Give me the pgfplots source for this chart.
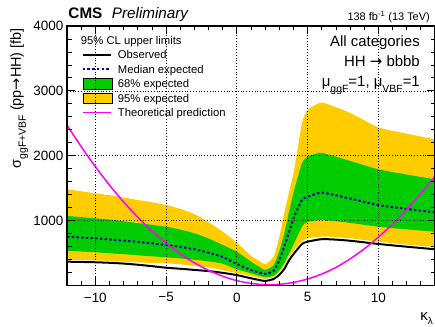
\documentclass[border=0pt]{standalone}
\usepackage{fontspec}
\setmainfont{Liberation Sans}
\newfontfamily\dejavu{DejaVu Sans}
\usepackage{pgfplots}
\usepackage{pgfplotstable}
\pgfplotsset{compat=1.18}
\usepgfplotslibrary{fillbetween}
\definecolor{cmsyellow}{RGB}{255,204,0}
\definecolor{cmsgreen}{RGB}{0,204,0}
\definecolor{cmsblue}{RGB}{10,10,150}
\definecolor{cmsmagenta}{RGB}{255,0,255}
\pgfplotstableread{
k yu gu med gl yl obs
-12 1482 1071 752 536 393 367
-11 1452 1054 740 524 385 363
-10 1421 1036 727 512 377 358
-9 1390 1015 710 497 370 350
-8 1355 990 692 482 363 338
-7 1318 962 672 466 355 320
-6 1282 935 650 450 348 298
-5 1241 906 624 435 342 274
-4 1180 862 595 418 326 258
-3 1100 805 560 398 305 240
-2 975 725 505 372 280 222
-1 830 625 440 335 236 195
0 660 521 330 250 190 160
1 455 367 239 188 146 111
1.5 390 300 205 155 120 88
2 330 240 178 128 98 70
2.6 444 315 225 150 115 100
3 750 530 390 230 180 165
3.35 1113 804 598 342 272 255
3.7 1450 1150 830 500 410 393
4.05 1780 1472 1060 650 547 496
4.6 2500 1883 1318 906 675 640
5 2704 1985 1368 983 727 675
5.9 2817 2046 1430 1009 752 712
6.6 2781 2011 1410 1000 752 712
8 2660 1920 1340 965 727 690
10 2438 1791 1240 906 675 640
12 2340 1710 1180 865 630 598
14 2253 1637 1128 829 589 558
}\limits
\pgfplotstableread{
k th
-12 2473
-11 2141
-10 1833
-9 1548
-8 1288
-7 1052
-6 840
-5 653
-4 489
-3 349
-2 234
-1 142
0 75
1 32
2 13
3 18
4 47
5 100
6 177
7 279
8 410
9 565
10 745
11 945
12 1170
13 1420
14 1683
}\theory
\pgfplotsset{
  myline/.style={legend image code/.code={\draw[##1] (0bp,0bp) -- (28bp,0bp);}},
  myarea/.style={legend image code/.code={\fill[##1] (0bp,-5.3bp) rectangle (29bp,5.3bp);}},
}
\begin{document}
\begin{tikzpicture}
\begin{axis}[
  name=ax,
  scale only axis, width=368bp, height=259.5bp,
  xmin=-12, xmax=14, ymin=0, ymax=4000,
  xtick={-10,-5,0,5,10}, xticklabels={−10,−5,0,5,10},
  minor xtick={-12,-11,...,14},
  ytick={0,1000,2000,3000,4000}, yticklabels={,1000,2000,3000,4000},
  minor ytick={0,200,...,4000},
  tick align=inside,
  major tick length=8bp, minor tick length=4.5bp,
  every tick/.style={black, line width=0.8bp},
  xmajorgrids, ymajorgrids,
  major grid style={black, line width=0.7bp, dash pattern=on 1bp off 1.8bp},
  axis line style={line width=1.6bp},
  axis on top,
  tick label style={font=\fontsize{13.5}{13.5}\selectfont},
  xticklabel style={inner sep=0pt, yshift=-7bp},
  yticklabel style={inner sep=0pt, xshift=-3.5bp},
  ylabel={σ\raisebox{-5bp}{\fontsize{10.5}{10.5}\selectfont ggF+VBF} (pp{\dejavu →}HH) [fb]},
  ylabel style={at={(axis description cs:-0.1255,0.9923)}, anchor=base east, rotate=0, font=\fontsize{14.5}{14.5}\selectfont, inner sep=0pt},
  xlabel={κ\raisebox{-4bp}{\fontsize{10}{10}\selectfont λ}},
  xlabel style={at={(axis description cs:0.9946,-0.133)}, anchor=base east, font=\fontsize{15}{15}\selectfont, inner sep=0pt},
  legend style={at={(axis description cs:0.04,0.9114)}, anchor=north west, draw=none, fill=none,
    inner sep=0pt, outer sep=0pt, font=\fontsize{11.3}{11.3}\selectfont,
    nodes={inner sep=0pt, text height=10bp, text depth=2bp},
    /tikz/row sep=2.4bp,
    /tikz/every odd column/.append style={column sep=6bp}},
  legend cell align=left,
]
\addplot[draw=none, name path=yu, forget plot, smooth, tension=0.4] table[x=k, y=yu] {\limits};
\addplot[draw=none, name path=yl, forget plot, smooth, tension=0.4] table[x=k, y=yl] {\limits};
\addplot[draw=none, name path=gu, forget plot, smooth, tension=0.4] table[x=k, y=gu] {\limits};
\addplot[draw=none, name path=gl, forget plot, smooth, tension=0.4] table[x=k, y=gl] {\limits};
\addplot[fill=cmsyellow, draw=none, forget plot] fill between[of=yu and yl];
\addplot[fill=cmsgreen, draw=none, forget plot] fill between[of=gu and gl];
\addplot[cmsblue, line width=2bp, dash pattern=on 2.5bp off 2.2bp, smooth, tension=0.4, forget plot] table[x=k, y=med] {\limits};
\addplot[white, line width=3.6bp, smooth, tension=0.4, forget plot] table[x=k, y=obs] {\limits};
\addplot[black, line width=2bp, smooth, tension=0.4, forget plot] table[x=k, y=obs] {\limits};
\addplot[cmsmagenta, line width=1.5bp, smooth, tension=0.5, forget plot] table[x=k, y=th] {\theory};
\addlegendimage{myline, black, line width=2bp}
\addlegendentry{Observed}
\addlegendimage{myline, cmsblue, line width=2bp, dash pattern=on 2.5bp off 2.2bp}
\addlegendentry{Median expected}
\addlegendimage{myarea, fill=cmsgreen}
\addlegendentry{68\% expected}
\addlegendimage{myarea, fill=cmsyellow}
\addlegendentry{95\% expected}
\addlegendimage{myline, cmsmagenta, line width=1.5bp}
\addlegendentry{Theoretical prediction}
\end{axis}
\node[anchor=base west, inner sep=0pt, font=\fontsize{11.3}{11.3}\selectfont] at ([xshift=13.7bp, yshift=-19bp]ax.north west) {95\% CL upper limits};
\node[anchor=base west, inner sep=0pt, font=\fontsize{15.3}{15.3}\selectfont\bfseries] at ([xshift=1.3bp, yshift=7.7bp]ax.north west) {CMS};
\node[anchor=base west, inner sep=0pt, font=\fontsize{15.3}{15.3}\selectfont\itshape] at ([xshift=44.7bp, yshift=7.7bp]ax.north west) {Preliminary};
\node[anchor=base east, inner sep=0pt, font=\fontsize{11}{11}\selectfont] at ([xshift=-5bp, yshift=5.3bp]ax.north east) {138 fb\textsuperscript{-1} (13 TeV)};
\node[anchor=base east, inner sep=0pt, font=\fontsize{15}{15}\selectfont] at ([xshift=-15bp, yshift=-20.7bp]ax.north east) {All categories};
\node[anchor=base east, inner sep=0pt, font=\fontsize{15}{15}\selectfont] at ([xshift=-15bp, yshift=-40.7bp]ax.north east) {HH {\dejavu →} bbbb};
\node[anchor=base east, inner sep=0pt, font=\fontsize{15}{15}\selectfont] at ([xshift=-15bp, yshift=-60.7bp]ax.north east) {μ\raisebox{-6bp}{\fontsize{10.5}{10.5}\selectfont ggF}=1, μ\raisebox{-6bp}{\fontsize{10.5}{10.5}\selectfont VBF}=1};
\pgfresetboundingbox
\path[use as bounding box] ([xshift=-67bp,yshift=-41.5bp]ax.south west) rectangle ([yshift=26bp]ax.north east);
\end{tikzpicture}
\end{document}
